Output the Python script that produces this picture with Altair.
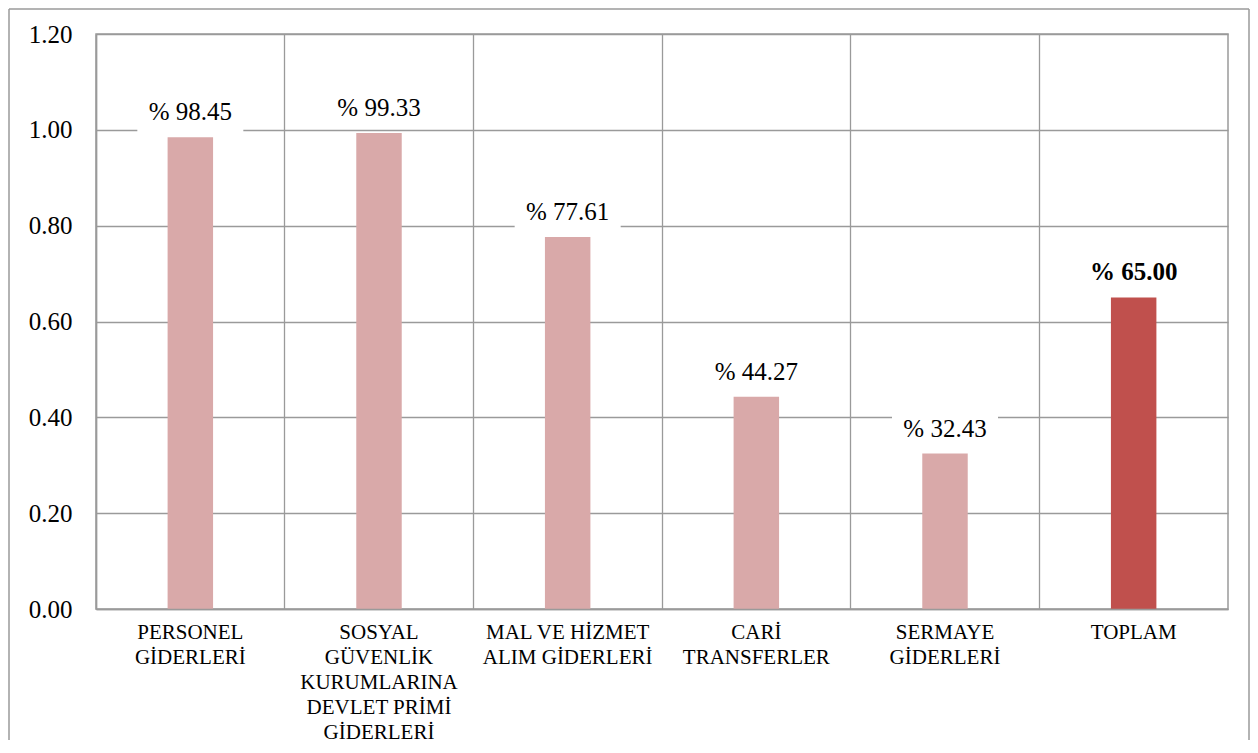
import altair as alt
import pandas as pd

categories = [
    "PERSONEL|GİDERLERİ",
    "SOSYAL|GÜVENLİK|KURUMLARINA|DEVLET PRİMİ|GİDERLERİ",
    "MAL VE HİZMET|ALIM GİDERLERİ",
    "CARİ|TRANSFERLER",
    "SERMAYE|GİDERLERİ",
    "TOPLAM",
]
values = [0.9845, 0.9933, 0.7761, 0.4427, 0.3243, 0.6500]
y_ticks = [0.0, 0.2, 0.4, 0.6, 0.8, 1.0, 1.2]

df = pd.DataFrame({"cat": categories, "val": values})

FONT = "Liberation Serif"
GRID = "#9a9a9a"
LIGHT = "#D9A9A9"
DARK = "#C0504D"

x_enc = alt.X(
    "cat:N",
    sort=categories,
    title=None,
    scale=alt.Scale(paddingInner=0, paddingOuter=0),
    axis=alt.Axis(
        labelExpr="split(datum.label, '|')",
        labelAngle=0,
        labelAlign="center",
        labelBaseline="top",
        labelFlush=False,
        labelFont=FONT,
        labelFontSize=21,
        labelLineHeight=25,
        labelColor="black",
        labelPadding=12,
        labelLimit=300,
        ticks=False,
        grid=True,
        bandPosition=0,
        gridColor=GRID,
        gridWidth=1.3,
        domainColor=GRID,
        domainWidth=1.5,
    ),
)
y_enc = alt.Y(
    "val:Q",
    title=None,
    scale=alt.Scale(domain=[0, 1.2], nice=False),
    axis=alt.Axis(
        values=y_ticks,
        format=".2f",
        labelFont=FONT,
        labelFontSize=25,
        labelColor="black",
        labelPadding=24,
        ticks=False,
        grid=True,
        gridColor=GRID,
        gridWidth=1.3,
        domainColor=GRID,
        domainWidth=1.5,
    ),
)

base = alt.Chart(df)

bars = base.mark_bar(width=alt.RelativeBandSize(0.241)).encode(
    x=x_enc,
    y=y_enc,
    color=alt.condition(alt.datum.cat == "TOPLAM", alt.value(DARK), alt.value(LIGHT)),
)

boxes = base.mark_rect(width=106, height=36, yOffset=-23, color="white", opacity=1).encode(
    x=alt.X("cat:N", sort=categories),
    y=alt.Y("val:Q"),
)

label_expr = "'% ' + format(datum.val * 100, '.2f')"

labels = base.transform_filter(alt.datum.cat != "TOPLAM").transform_calculate(
    lbl=label_expr
).mark_text(font=FONT, fontSize=25, dy=-25, baseline="middle", color="black").encode(
    x=alt.X("cat:N", sort=categories),
    y=alt.Y("val:Q"),
    text="lbl:N",
)

label_total = base.transform_filter(alt.datum.cat == "TOPLAM").transform_calculate(
    lbl=label_expr
).mark_text(font=FONT, fontSize=25, fontWeight="bold", dy=-26, baseline="middle", color="black").encode(
    x=alt.X("cat:N", sort=categories),
    y=alt.Y("val:Q"),
    text="lbl:N",
)

frame_data = alt.Data(values=[{"k": 1}])
border_left = alt.Chart(frame_data).mark_rule(color=GRID, strokeWidth=1.5).encode(
    x=alt.value(-87), y=alt.value(-25), y2=alt.value(706)
)
border_right = alt.Chart(frame_data).mark_rule(color=GRID, strokeWidth=1.5).encode(
    x=alt.value(1153), y=alt.value(-25), y2=alt.value(706)
)
border_top = alt.Chart(frame_data).mark_rule(color=GRID, strokeWidth=1.5).encode(
    x=alt.value(-87), x2=alt.value(1153), y=alt.value(-25)
)

chart = alt.layer(
    boxes, bars, labels, label_total, border_left, border_right, border_top
).properties(
    width=1132, height=575, padding=0, background="white"
).configure_view(
    stroke=GRID, strokeWidth=1.5
)

chart.save("out.html", embed_options={"renderer": "svg", "actions": False})
